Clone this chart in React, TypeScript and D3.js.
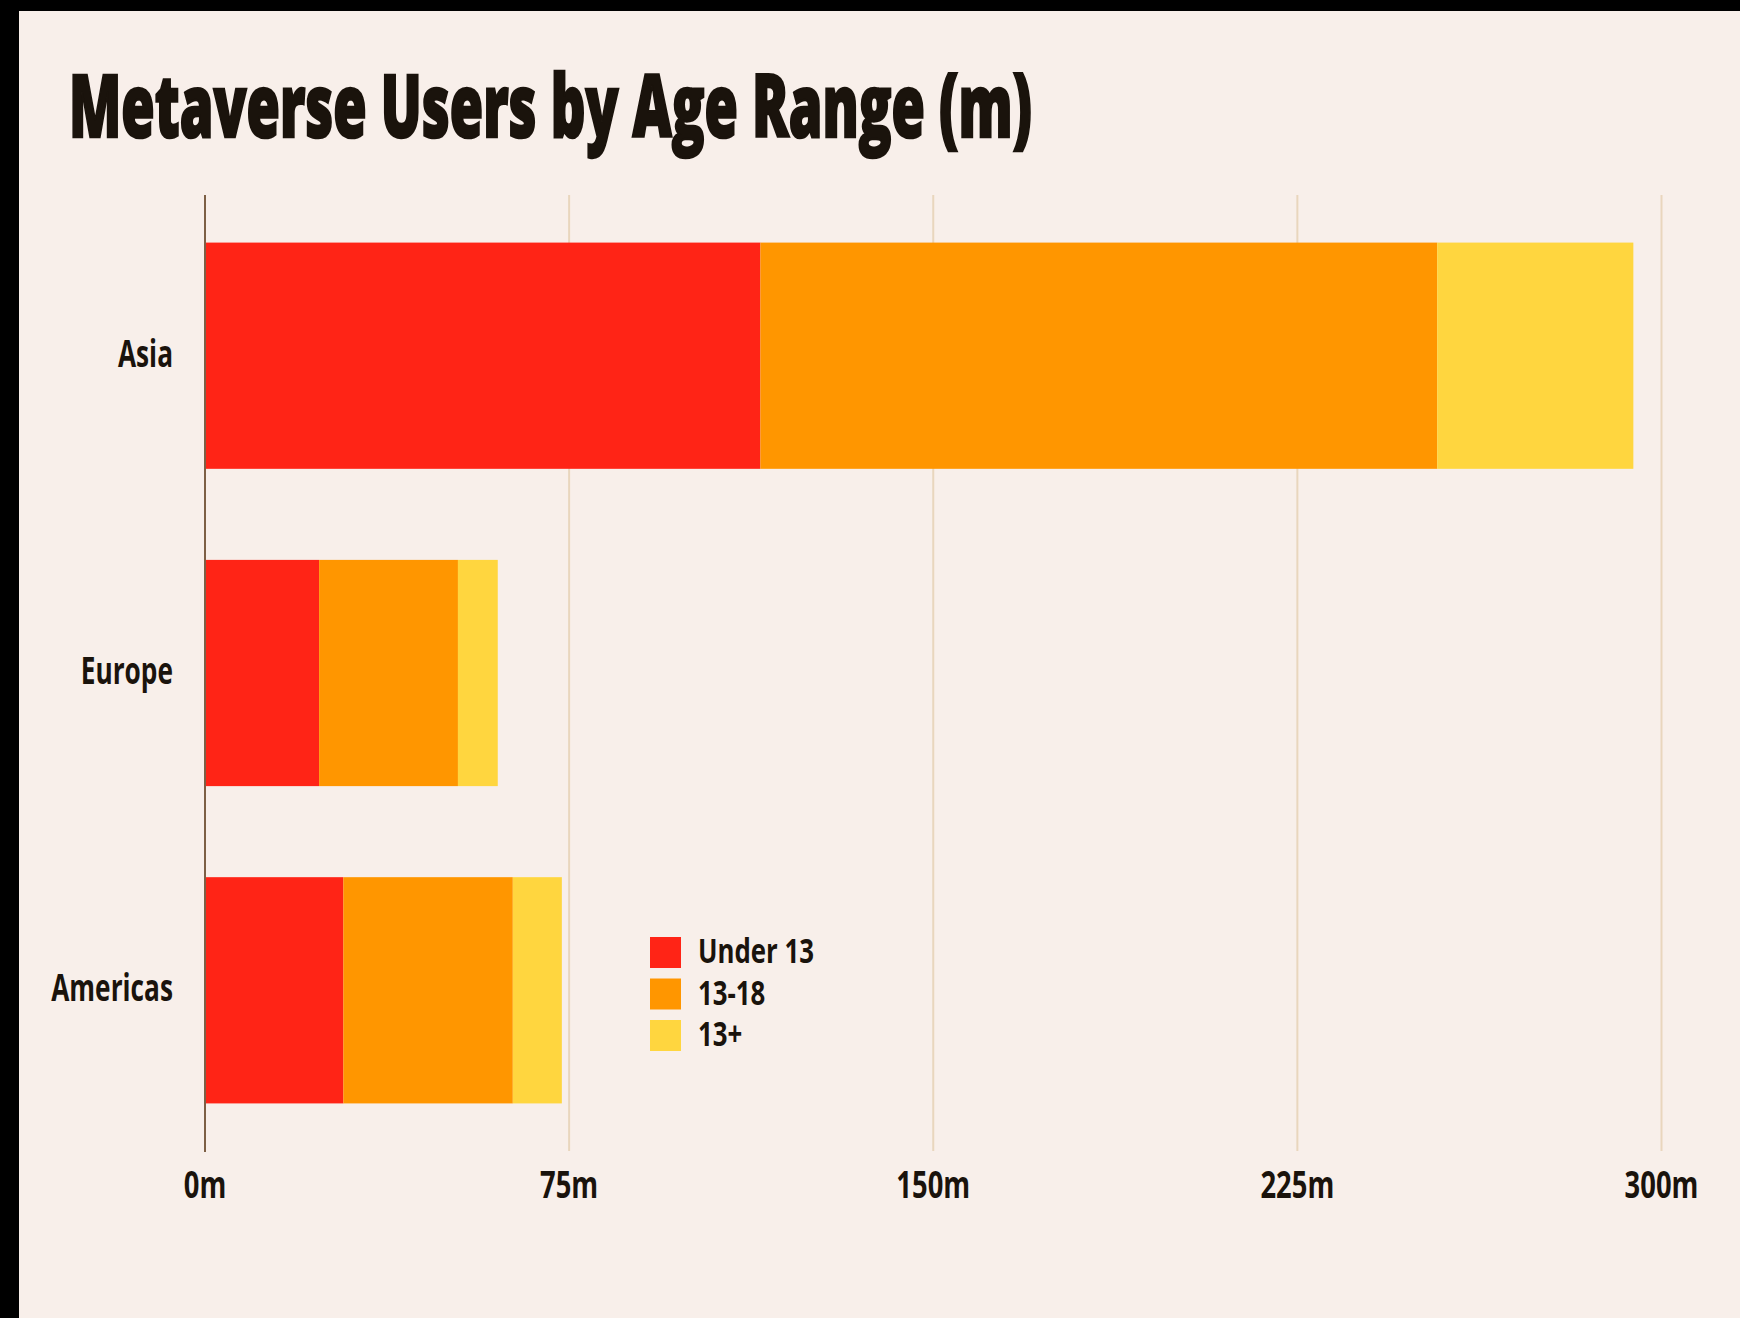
import React from "react";
import * as d3 from "d3";

const W = 1740;
const H = 1318;

const title = "Metaverse Users by Age Range (m)";
const regions = ["Asia", "Europe", "Americas"];
const seriesNames = ["Under 13", "13-18", "13+"];
const under13 = [114.4, 23.5, 28.5];
const age13to18 = [139.4, 28.6, 34.9];
const age13plus = [40.4, 8.2, 10.1];
const tickValues = [0, 75, 150, 225, 300];
const tickLabels = ["0m", "75m", "150m", "225m", "300m"];
const colors = ["#ff2416", "#ff9600", "#ffd63f"];

const BG = "#f8efea";
const TEXT = "#1a130c";
const FONT = "'Open Sans', 'Noto Sans', sans-serif";

export default function App() {
  const x = d3.scaleLinear().domain([0, 300]).range([205, 1661.5]);
  const y = d3
    .scaleBand<string>()
    .domain(regions)
    .range([195, 1151])
    .paddingInner(0.287)
    .paddingOuter(0.15);

  const rows = regions.map((r, i) => ({
    region: r,
    "Under 13": under13[i],
    "13-18": age13to18[i],
    "13+": age13plus[i],
  }));
  const stacked = d3.stack<any>().keys(seriesNames)(rows);

  const legendX = 650;
  const legendY = 937;
  const legendStep = 41.5;

  return (
    <svg
      width={W}
      height={H}
      style={{ position: "absolute", left: 0, top: 0, display: "block" }}
    >
      <rect x={0} y={0} width={W} height={H} fill="#000" />
      <rect x={19} y={11} width={W - 19} height={H - 11} fill={BG} />

      <text
        x={69}
        y={137}
        fontFamily={FONT}
        fontWeight={800}
        fontSize={87}
        fill={TEXT}
        stroke={TEXT}
        strokeWidth={2.5}
        textLength={963}
        lengthAdjust="spacingAndGlyphs"
      >
        {title}
      </text>

      {/* grid lines */}
      {tickValues.slice(1).map((t) => (
        <line
          key={t}
          x1={x(t)}
          x2={x(t)}
          y1={195}
          y2={1151}
          stroke="#e9d6bd"
          strokeWidth={2}
        />
      ))}

      {/* bars */}
      {stacked.map((s, si) =>
        s.map((d, i) => (
          <rect
            key={`${si}-${i}`}
            x={x(d[0])}
            y={y(regions[i])}
            width={x(d[1]) - x(d[0])}
            height={y.bandwidth()}
            fill={colors[si]}
          />
        ))
      )}

      {/* axis line */}
      <line x1={x(0)} x2={x(0)} y1={195} y2={1152} stroke="#7d5f45" strokeWidth={2} />

      {/* category labels */}
      {regions.map((r) => (
        <text
          key={r}
          transform={`translate(173,${(y(r) as number) + y.bandwidth() / 2 + 11}) scale(0.71,1)`}
          textAnchor="end"
          fontFamily={FONT}
          fontWeight={700}
          fontSize={37}
          fill={TEXT}
        >
          {r}
        </text>
      ))}

      {/* tick labels */}
      {tickValues.map((t, i) => (
        <text
          key={t}
          transform={`translate(${x(t)},1198) scale(0.72,1)`}
          textAnchor="middle"
          fontFamily={FONT}
          fontWeight={700}
          fontSize={38}
          fill={TEXT}
        >
          {tickLabels[i]}
        </text>
      ))}

      {/* legend */}
      {seriesNames.map((n, i) => (
        <g key={n} transform={`translate(${legendX},${legendY + i * legendStep})`}>
          <rect x={0} y={0} width={31} height={31} fill={colors[i]} />
          <text
            transform={`translate(48,26) scale(0.76,1)`}
            fontFamily={FONT}
            fontWeight={700}
            fontSize={34}
            fill={TEXT}
          >
            {n}
          </text>
        </g>
      ))}
    </svg>
  );
}
